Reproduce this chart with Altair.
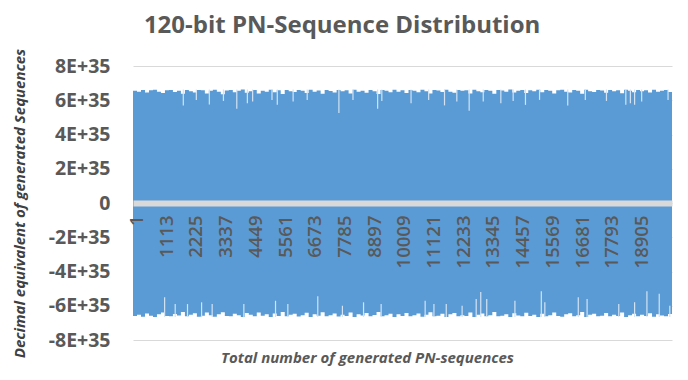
import altair as alt
import pandas as pd

# ---------------- data (values in units of 1E+35) ----------------
TITLE = "120-bit PN-Sequence Distribution"
Y_TITLE = "Decimal equivalent of generated Sequences"
X_TITLE = "Total number of generated PN-sequences"

X_TICKS = [1, 1113, 2225, 3337, 4449, 5561, 6673, 7785, 8897, 10009,
           11121, 12233, 13345, 14457, 15569, 16681, 17793, 18905]
Y_TICKS = [-8, -6, -4, -2, 0, 2, 4, 6, 8]

# outline of the densely packed bars (upper edge / lower edge), read left to right
upper_edge = [6.55, 6.5, 6.6, 6.45, 6.58, 6.62, 6.5, 6.42, 6.58, 6.6,
              6.48, 6.55, 6.38, 6.6, 6.52, 6.45, 6.6, 6.58, 6.4, 6.55,
              6.62, 6.5, 6.35, 6.57, 6.6, 6.47, 6.55, 6.63, 6.44, 6.52,
              6.6, 6.4, 6.56, 6.5, 6.62, 6.46, 6.58, 6.36, 6.6, 6.53,
              6.48, 6.6, 6.55, 6.42, 6.62, 6.5, 6.57, 6.38, 6.6, 6.54,
              6.45, 6.6, 6.52, 6.58, 6.4, 6.62, 6.5, 6.56, 6.44, 6.6,
              6.53, 6.37, 6.6, 6.55, 6.47, 6.62, 6.5, 6.58, 6.42, 6.6,
              6.55, 6.46, 6.62, 6.52, 6.39, 6.6, 6.57, 6.48, 6.62, 6.5,
              6.44, 6.6, 6.55, 6.58, 6.4, 6.62, 6.52, 6.46, 6.6, 6.55,
              6.38, 6.6, 6.57, 6.5, 6.63, 6.45, 6.56, 6.6, 6.42, 6.58,
              6.52, 6.62, 6.47, 6.6, 6.55, 6.4, 6.58, 6.62, 6.5, 6.45,
              6.6, 6.56, 6.38, 6.62, 6.53, 6.48, 6.6, 6.57, 6.44, 6.6,
              6.52, 6.58, 6.41, 6.62, 6.55, 6.47, 6.6, 6.53, 6.58, 6.45,
              6.62, 6.5, 6.56, 6.6, 6.48]
lower_edge = [-6.6, -6.52, -6.64, -6.45, -6.58, -6.66, -6.5, -6.4, -6.6, -6.62,
              -6.48, -6.57, -6.36, -6.62, -6.52, -6.44, -6.64, -6.58, -6.4, -6.55,
              -6.64, -6.5, -6.38, -6.6, -6.62, -6.46, -6.55, -6.66, -6.42, -6.52,
              -6.62, -6.4, -6.58, -6.5, -6.65, -6.45, -6.6, -6.37, -6.62, -6.53,
              -6.47, -6.63, -6.55, -6.41, -6.65, -6.5, -6.58, -6.38, -6.62, -6.55,
              -6.45, -6.63, -6.52, -6.6, -6.4, -6.65, -6.5, -6.57, -6.43, -6.62,
              -6.54, -6.36, -6.62, -6.56, -6.46, -6.65, -6.5, -6.6, -6.42, -6.62,
              -6.55, -6.45, -6.64, -6.52, -6.38, -6.62, -6.58, -6.47, -6.65, -6.5,
              -6.43, -6.62, -6.55, -6.6, -6.4, -6.65, -6.52, -6.45, -6.62, -6.56,
              -6.37, -6.62, -6.58, -6.5, -6.66, -6.44, -6.57, -6.62, -6.41, -6.6,
              -6.52, -6.65, -6.46, -6.62, -6.55, -6.4, -6.6, -6.64, -6.5, -6.44,
              -6.62, -6.56, -6.37, -6.65, -6.53, -6.47, -6.62, -6.58, -6.43, -6.62,
              -6.52, -6.6, -6.4, -6.65, -6.55, -6.46, -6.62, -6.53, -6.6, -6.44,
              -6.64, -6.5, -6.57, -6.62, -6.48]

# individual bars that fall well short of the edge (sequence index, value)
top_spike_pos = [1753, 2241, 2728, 3256, 3756, 4152, 4349, 5074, 5272, 5865,
                 6392, 7579, 8106, 9029, 9186, 10280, 10940, 11533, 11994, 12456,
                 12983, 13642, 14103, 14564, 15091, 16146, 16805, 17596, 18321, 18492,
                 18650, 18914, 19902]
top_spike_val = [5.7, 6.02, 5.75, 5.96, 5.5, 5.83, 5.92, 6.02, 5.73, 5.92,
                 6.02, 5.25, 6.02, 5.5, 5.96, 5.83, 6.02, 5.7, 5.92, 5.38,
                 5.92, 5.83, 5.96, 5.73, 6.02, 5.7, 6.02, 5.96, 5.73, 5.83,
                 5.73, 5.92, 6.02]
bot_spike_pos = [1054, 1450, 1911, 2438, 2834, 4020, 5206, 5667, 6788, 7711,
                 8501, 9160, 10808, 11137, 11598, 12192, 12719, 12890, 13114, 14169,
                 15157, 15289, 16541, 16871, 18057, 18650, 19111, 19572, 19968]
bot_spike_val = [-5.5, -5.9, -5.9, -5.8, -5.9, -5.9, -5.71, -5.9, -5.44, -6.0,
                 -5.8, -5.9, -5.71, -5.9, -5.9, -6.0, -5.6, -5.2, -5.6, -5.71,
                 -5.15, -5.8, -5.5, -5.6, -5.9, -5.8, -5.15, -5.3, -6.0]

# ---------------- tables ----------------
SCALE = 1e35
X_MIN, X_MAX = -130, 20050
n = len(upper_edge)
step = (X_MAX - X_MIN) / n
env = pd.DataFrame({
    "x": [X_MIN + i * step for i in range(n)] + [X_MAX],
    "up": [v * SCALE for v in upper_edge] + [upper_edge[-1] * SCALE],
    "lo": [v * SCALE for v in lower_edge] + [lower_edge[-1] * SCALE],
})
spikes = pd.DataFrame({
    "pos": top_spike_pos + bot_spike_pos,
    "v1": [v * SCALE for v in top_spike_val] + [v * SCALE for v in bot_spike_val],
    "v2": [max(upper_edge) * SCALE] * len(top_spike_pos) + [min(lower_edge) * SCALE] * len(bot_spike_pos),
})

# ---------------- chart ----------------
W, H = 539, 274
FONT = "Open Sans"
GREY = "#595959"
BLUE = "#5b9bd5"

xscale = alt.Scale(domain=[X_MIN, X_MAX], nice=False, zero=False)
yscale = alt.Scale(domain=[Y_TICKS[0] * SCALE, Y_TICKS[-1] * SCALE], nice=False)

yaxis = alt.Axis(values=[t * SCALE for t in Y_TICKS],
                 labelExpr="datum.value == 0 ? '0' : round(datum.value/1e35) + 'E+35'",
                 grid=True, gridColor="#d9d9d9", gridWidth=1, domain=False,
                 ticks=False, labelPadding=23, labelFont=FONT, labelFontSize=19.5,
                 labelFontWeight="bold", labelColor=GREY,
                 title=Y_TITLE, titleFont=FONT, titleFontSize=15,
                 titleFontStyle="italic", titleFontWeight="bold",
                 titleColor="#404040", titlePadding=21)

area = alt.Chart(env).mark_area(interpolate="step-after", color=BLUE).encode(
    x=alt.X("x:Q", scale=xscale,
            axis=alt.Axis(orient="bottom", title=X_TITLE, labels=False, ticks=False,
                          domain=False, grid=False, titleFont=FONT, titleFontSize=15,
                          titleFontStyle="italic", titleFontWeight="bold",
                          titleColor=GREY, titlePadding=10, titleX=234)),
    y=alt.Y("up:Q", scale=yscale, axis=yaxis),
    y2="lo:Q",
)

spk = alt.Chart(spikes).mark_rule(color="#d3e3f3", strokeWidth=1.2).encode(
    x=alt.X("pos:Q", scale=xscale,
            axis=alt.Axis(orient="bottom", offset=-H / 2, values=X_TICKS, title=None,
                          format="d",
                          labelAngle=270, labelAlign="right", labelBaseline="middle",
                          labelPadding=12, labelFlush=False, labelOverlap=False,
                          ticks=False, grid=False, domainColor="#d9d9d9", domainWidth=6,
                          labelFont=FONT, labelFontSize=18.5, labelFontWeight=600,
                          labelColor=GREY, zindex=1)),
    y=alt.Y("v1:Q", scale=yscale, axis=yaxis),
    y2="v2:Q",
)

chart = alt.layer(area, spk).resolve_axis(x="independent").properties(
    width=W, height=H,
    padding={"left": 4, "top": 6, "right": 5, "bottom": 3},
    title=alt.TitleParams(TITLE, font=FONT, fontSize=24, fontWeight="bold",
                          color=GREY, anchor="middle", frame="bounds", offset=10),
).configure_view(stroke=None)

chart.save("out.html", embed_options={"renderer": "svg", "actions": False})
